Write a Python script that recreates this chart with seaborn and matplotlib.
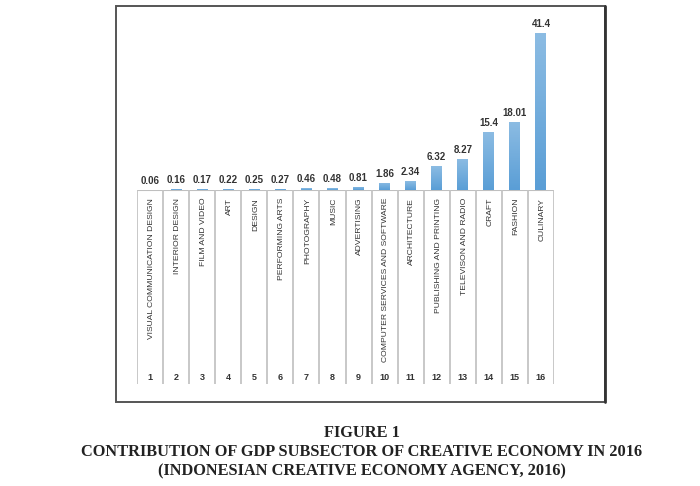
import numpy as np
import pandas as pd
import matplotlib
matplotlib.use('Agg')
import matplotlib.pyplot as plt
import seaborn as sns
from matplotlib.patches import Rectangle
from matplotlib.colors import LinearSegmentedColormap

# data
subsectores = ['VISUAL COMMUNICATION DESIGN', 'INTERIOR DESIGN', 'FILM AND VIDEO', 'ART',
               'DESIGN', 'PERFORMING ARTS', 'PHOTOGRAPHY', 'MUSIC', 'ADVERTISING',
               'COMPUTER SERVICES AND SOFTWARE', 'ARCHITECTURE', 'PUBLISHING AND PRINTING',
               'TELEVISON AND RADIO', 'CRAFT', 'FASHION', 'CULINARY']
numeros = [str(i) for i in range(1, 17)]
contribucion = [0.06, 0.16, 0.17, 0.22, 0.25, 0.27, 0.46, 0.48, 0.81,
                1.86, 2.34, 6.32, 8.27, 15.4, 18.01, 41.4]
etiquetas_valor = ['0.06', '0.16', '0.17', '0.22', '0.25', '0.27', '0.46', '0.48', '0.81',
                   '1.86', '2.34', '6.32', '8.27', '15.4', '18.01', '41.4']

df = pd.DataFrame({'subsector': subsectores, 'pib': contribucion})

sns.set_style('white')
plt.rcParams['font.family'] = ['Liberation Sans Narrow', 'Liberation Sans', 'DejaVu Sans']

W, H = 700, 486
fig = plt.figure(figsize=(7, 4.86), dpi=100)


def px(x0, y0, x1, y1):
    # pixel box (top-left origin) -> figure fraction rect
    return [x0 / W, 1 - y1 / H, (x1 - x0) / W, (y1 - y0) / H]


# outer frame of the chart
fig.add_artist(Rectangle((116 / W, 1 - 402 / H), (605 - 116) / W, (402 - 6) / H,
                         transform=fig.transFigure, fill=False, ec='#555555', lw=1.4))
fig.add_artist(plt.Line2D([605 / W, 605 / W], [1 - 402 / H, 1 - 6 / H],
                          transform=fig.transFigure, color='#333333', lw=2))

# bars
ax = fig.add_axes(px(137, 20, 554, 190))
sns.barplot(data=df, x='subsector', y='pib', color='#5b9fd6', width=0.42, ax=ax)
ax.axis('off')

cmap = LinearSegmentedColormap.from_list('azul', ['#5a9ed6', '#8cbce3'])
grad = np.linspace(0, 1, 100).reshape(-1, 1)
for barra in ax.patches:
    x0, y0 = barra.get_x(), barra.get_y()
    w, h = barra.get_width(), barra.get_height()
    im = ax.imshow(grad, cmap=cmap, origin='lower', aspect='auto',
                   extent=[x0, x0 + w, y0, y0 + h], zorder=barra.get_zorder() + 0.1)
    im.set_clip_path(barra)
    barra.set_edgecolor('none')
ax.set_xlim(-0.5, 15.5)
ax.set_ylim(0, 44.9)

for i, (v, txt) in enumerate(zip(contribucion, etiquetas_valor)):
    ax.annotate(txt, (i, v), xytext=(0, 3), textcoords='offset points',
                ha='center', va='bottom', fontsize=7, fontweight='bold', color='#333333')

# table of categories under the bars
tab = fig.add_axes(px(137, 190, 554, 384))
tab.set_xlim(-0.5, 15.5)
tab.set_ylim(0, 1)
tab.axis('off')
tab.axhline(1, color='#bfbfbf', lw=1.5)
for i in range(17):
    tab.axvline(i - 0.5, color='#c4c4c4', lw=1.3)
for i, (nombre, n) in enumerate(zip(subsectores, numeros)):
    tab.text(i + 0.05, 0.96, nombre, rotation=90, ha='center', va='top',
             fontsize=6.1, color='#333333')
    tab.text(i, 0.035, n, ha='center', va='center', fontsize=6.5,
             fontweight='bold', color='#333333')

# caption
titulo = ['FIGURE 1',
          'CONTRIBUTION OF GDP SUBSECTOR OF CREATIVE ECONOMY IN 2016',
          '(INDONESIAN CREATIVE ECONOMY AGENCY, 2016)']
for k, linea in enumerate(titulo):
    fig.text(362 / W, 1 - (433 + 19 * k) / H, linea, ha='center', va='center',
             fontsize=11.8, fontweight='bold', family=['Liberation Serif', 'DejaVu Serif'],
             color='#222222')

fig.savefig('out.png', dpi=100, facecolor='white')
